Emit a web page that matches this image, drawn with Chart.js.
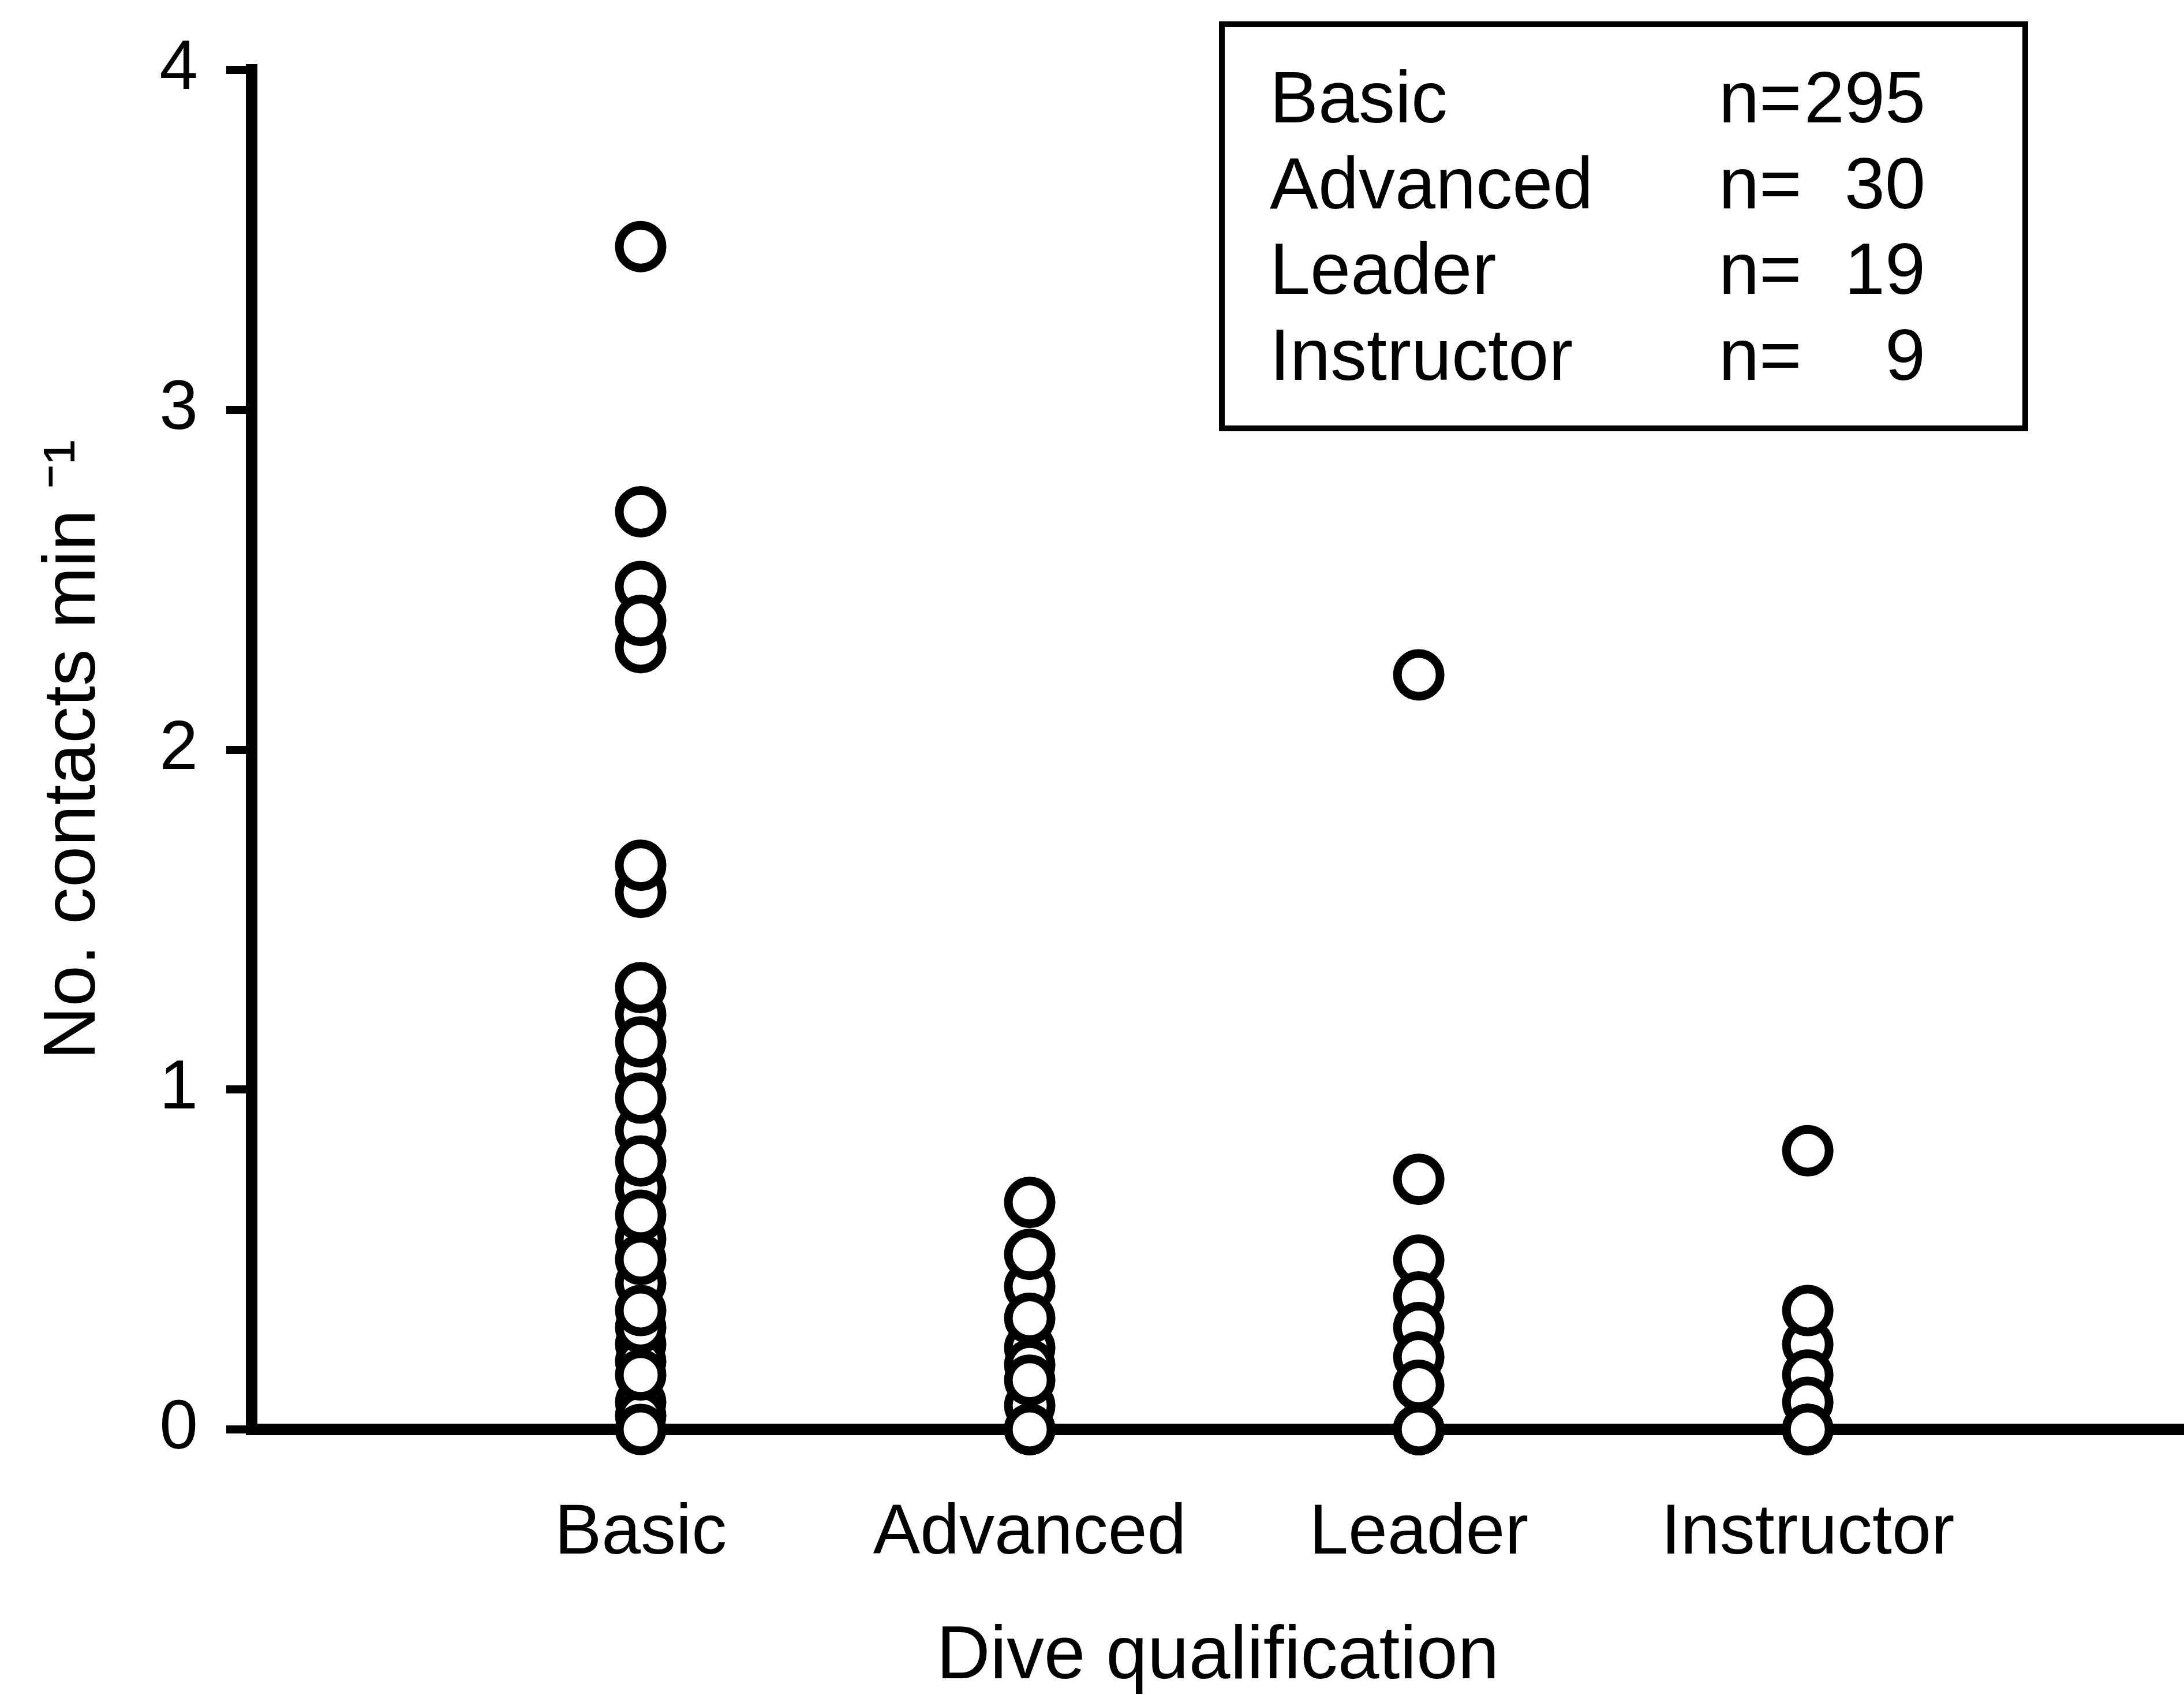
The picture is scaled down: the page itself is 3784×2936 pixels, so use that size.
<!DOCTYPE html>
<html>
<head>
<meta charset="utf-8">
<script src="https://cdn.jsdelivr.net/npm/chart.js@4.4.1/dist/chart.umd.min.js"></script>
<style>
    html, body { margin: 0; padding: 0; background: #fff; }
    canvas { display: block; }
</style>
</head>
<body>
<canvas id="chart" width="3784" height="2936"></canvas>
<script>
const categories = ['Basic', 'Advanced', 'Leader', 'Instructor'];
const sampleSizes = [295, 30, 19, 9];
const yTickValues = [0, 1, 2, 3, 4];

// contacts per minute, in drawing order (later points sit on top)
const basicValues = [1.22, 1.06, 0.88, 0.71, 0.56, 0.43, 0.25, 0.08, 0.04, 0.20, 0.30,
    3.48, 2.70, 2.30, 2.48, 2.38, 1.58, 1.66, 1.30, 1.14, 0.975, 0.79, 0.63, 0.50, 0.35, 0.16, 0];
const advancedValues = [0.42, 0.24, 0.19, 0.07, 0, 0, 0, 0, 0.668, 0.515, 0.327, 0.145, 0];
const leaderValues = [2.22, 0.736, 0.498, 0.39, 0.30, 0.213, 0.13, 0, 0, 0, 0, 0, 0, 0, 0, 0, 0, 0, 0];
const instructorValues = [0.82, 0.25, 0.35, 0.16, 0.08, 0, 0, 0, 0];

const groupValues = [basicValues, advancedValues, leaderValues, instructorValues];
const FONT = "'Liberation Sans', Arial, Helvetica, sans-serif";

// boxed n= table in the top right corner
const sampleBox = {
    id: 'sampleBox',
    afterDraw(chart) {
        const ctx = chart.ctx;
        ctx.save();
        ctx.lineWidth = 10;
        ctx.strokeStyle = '#000';
        ctx.strokeRect(2117, 42, 1392, 700);
        ctx.fillStyle = '#000';
        ctx.font = `126px ${FONT}`;
        ctx.textBaseline = 'alphabetic';
        categories.forEach((name, i) => {
            const y = 212 + i * 148.5;
            ctx.textAlign = 'left';
            ctx.fillText(name, 2200, y);
            ctx.fillText('n=', 2978, y);
            ctx.textAlign = 'right';
            ctx.fillText(String(sampleSizes[i]), 3336, y);
        });
        ctx.restore();
    }
};

const datasets = groupValues.map((vals, i) => ({
    label: categories[i],
    data: vals.map(v => ({ x: i + 1, y: v })),
    pointStyle: 'circle',
    pointRadius: 37,
    pointBorderWidth: 15,
    pointBorderColor: '#000',
    pointBackgroundColor: '#fff',
    clip: false
}));

new Chart(document.getElementById('chart').getContext('2d'), {
    type: 'scatter',
    data: { datasets },
    options: {
        responsive: false,
        animation: false,
        devicePixelRatio: 1,
        layout: { autoPadding: false, padding: { top: 111, right: 0, bottom: 0, left: 0 } },
        plugins: { legend: { display: false }, tooltip: { enabled: false } },
        scales: {
            x: {
                type: 'linear',
                min: 0,
                max: 4.967,
                grid: { display: false, drawTicks: false },
                border: { display: true, color: '#000', width: 20 },
                afterBuildTicks: scale => { scale.ticks = categories.map((c, i) => ({ value: i + 1 })); },
                afterFit: scale => { scale.height = 460; },
                ticks: {
                    autoSkip: false,
                    maxRotation: 0,
                    padding: 108,
                    color: '#000',
                    font: { family: FONT, size: 122, lineHeight: 1.2 },
                    callback: v => categories[v - 1]
                },
                title: {
                    display: true,
                    text: 'Dive qualification',
                    color: '#000',
                    font: { family: FONT, size: 129, lineHeight: 1.0 },
                    padding: { top: 0, bottom: 0 }
                }
            },
            y: {
                min: 0,
                max: 4,
                grid: { drawOnChartArea: false, drawTicks: true, tickLength: 44, lineWidth: 14, color: '#000' },
                border: { display: true, color: '#000', width: 20 },
                afterBuildTicks: scale => { scale.ticks = yTickValues.map(v => ({ value: v })); },
                afterFit: scale => { scale.width = 436; },
                ticks: {
                    padding: 49,
                    color: '#000',
                    font: { family: FONT, size: 120, lineHeight: 1.2 },
                    callback: v => String(v)
                },
                title: {
                    display: true,
                    text: 'No. contacts min \u207B\u00B9',
                    color: '#000',
                    font: { family: FONT, size: 128, lineHeight: 1.2 },
                    padding: { top: 52, bottom: 0 }
                }
            }
        }
    },
    plugins: [sampleBox]
});
</script>
</body>
</html>
